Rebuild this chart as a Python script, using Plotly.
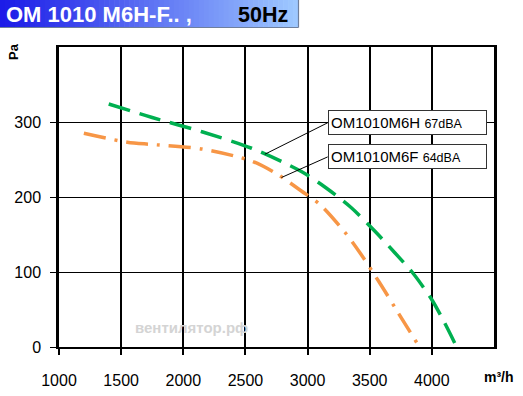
import plotly.graph_objects as go

# Data
green_x = [1400, 1750, 2150, 2550, 2950, 3150, 3350, 3550, 3700, 3850, 4000, 4100, 4200]
green_y = [324, 306, 287, 265, 234, 212, 186, 153, 126, 98, 63, 33, 0]
orange_x = [1200, 1550, 1750, 2150, 2550, 2750, 2950, 3100, 3300, 3420, 3520, 3620, 3720, 3900]
orange_y = [285, 273, 270, 264, 248, 231, 208, 190, 153, 126, 101, 75, 48, 0]
x_ticks = [1000, 1500, 2000, 2500, 3000, 3500, 4000]
y_ticks = [0, 100, 200, 300]
series_names = ["OM1010M6H", "OM1010M6F"]
series_levels = ["67dBA", "64dBA"]

W, H = 523, 396
L, R, T, B = 59, 29, 47, 49
PW, PH = W - L - R, H - T - B

def px(xp):
    return (xp - L) / PW

def py(yp):
    return (H - B - yp) / PH

FONT = "Arial, Liberation Sans, sans-serif"

fig = go.Figure()
fig.add_trace(go.Scatter(x=green_x, y=green_y, mode="lines", name=series_names[0],
                         line=dict(color="#00b050", width=3.5, dash="22px,10px", shape="spline", smoothing=0.8),
                         hoverinfo="skip"))
fig.add_trace(go.Scatter(x=orange_x, y=orange_y, mode="lines", name=series_names[1],
                         line=dict(color="#f79646", width=3.5, dash="22px,9px,3px,9px", shape="spline", smoothing=0.8),
                         hoverinfo="skip"))

shapes = []
# header gradient bar
n = 60
x0p, x1p = 0, 298
for i in range(n):
    t = i / (n - 1)
    r = int(28 + (158 - 28) * t)
    g = int(28 + (200 - 28) * t)
    b = int(232 + (255 - 232) * t)
    xa = x0p + (x1p - x0p) * i / n
    xb = x0p + (x1p - x0p) * (i + 1) / n + 0.6
    shapes.append(dict(type="rect", xref="paper", yref="paper",
                       x0=px(xa), x1=px(xb), y0=py(27), y1=py(0),
                       fillcolor=f"rgb({r},{g},{b})", line=dict(width=0), layer="below"))
shapes.append(dict(type="line", xref="paper", yref="paper", x0=px(0), x1=px(298.5), y0=py(27.5), y1=py(27.5),
                   line=dict(color="#6f7f9c", width=1.2)))
shapes.append(dict(type="line", xref="paper", yref="paper", x0=px(298.5), x1=px(298.5), y0=py(27.5), y1=py(0),
                   line=dict(color="#6f7f9c", width=1.2)))
# leader lines from legend boxes to the curves
leaders = [((2656, 257), (3162, 299)), ((2790, 226), (3162, 253.5))]
for (xa, ya), (xb, yb) in leaders:
    shapes.append(dict(type="line", xref="x", yref="y", x0=xa, y0=ya, x1=xb, y1=yb,
                       line=dict(color="black", width=1)))

annotations = [
    dict(xref="paper", yref="paper", x=px(4), y=py(15), xanchor="left", yanchor="middle",
         text="<b>OM 1010 M6H-F.. ,</b>", showarrow=False,
         font=dict(family=FONT, size=22, color="white")),
    dict(xref="paper", yref="paper", x=px(236), y=py(15), xanchor="left", yanchor="middle",
         text="<b>50Hz</b>", showarrow=False,
         font=dict(family=FONT, size=21.5, color="black")),
    dict(xref="paper", yref="paper", x=px(13), y=py(52), xanchor="center", yanchor="middle",
         text="<b>Pa</b>", textangle=-90, showarrow=False,
         font=dict(family=FONT, size=13, color="black")),
    dict(xref="paper", yref="paper", x=px(499), y=py(377), xanchor="center", yanchor="middle",
         text="<b>m³/h</b>", showarrow=False,
         font=dict(family=FONT, size=14, color="black")),
    dict(xref="paper", yref="paper", x=px(191), y=py(327), xanchor="center", yanchor="middle",
         text="<b>вентилятор.рф</b>", showarrow=False,
         font=dict(family=FONT, size=15, color="#d4d4d4")),
]
box_centers = [122.5, 156]
for name, lvl, yc in zip(series_names, series_levels, box_centers):
    annotations.append(dict(
        xref="paper", yref="paper", x=px(328), y=py(yc), xanchor="left", yanchor="middle",
        text=f"{name} <span style='font-size:12.5px'>{lvl}</span>", showarrow=False,
        align="left", width=153, height=19, borderpad=2,
        bordercolor="#333333", borderwidth=1, bgcolor="white",
        font=dict(family=FONT, size=15, color="black")))

fig.update_layout(
    width=W, height=H,
    margin=dict(l=L, r=R, t=T, b=B, autoexpand=False),
    paper_bgcolor="white", plot_bgcolor="white",
    showlegend=False,
    font=dict(family=FONT, size=15, color="black"),
    shapes=shapes, annotations=annotations,
)
fig.update_xaxes(range=[1000, 4500], tickvals=x_ticks, ticktext=[str(v) for v in x_ticks],
                 showgrid=True, gridcolor="black", gridwidth=1.8, automargin=False,
                 showline=True, linecolor="black", linewidth=2, mirror=True,
                 ticks="outside", ticklen=6, tickwidth=1.8, tickcolor="black",
                 ticklabelstandoff=12, zeroline=False,
                 tickfont=dict(family=FONT, size=16))
fig.update_yaxes(range=[0, 400], tickvals=y_ticks, ticktext=[str(v) for v in y_ticks],
                 showgrid=True, gridcolor="black", gridwidth=1.4, automargin=False,
                 showline=True, linecolor="black", linewidth=2.5, mirror=True,
                 ticks="outside", ticklen=6, tickwidth=1.4, tickcolor="black",
                 ticklabelstandoff=6, zeroline=False,
                 tickfont=dict(family=FONT, size=16))

fig.write_html("out.html", config={"displayModeBar": False},
               post_script="document.body.style.margin='0';document.body.style.padding='0';")
